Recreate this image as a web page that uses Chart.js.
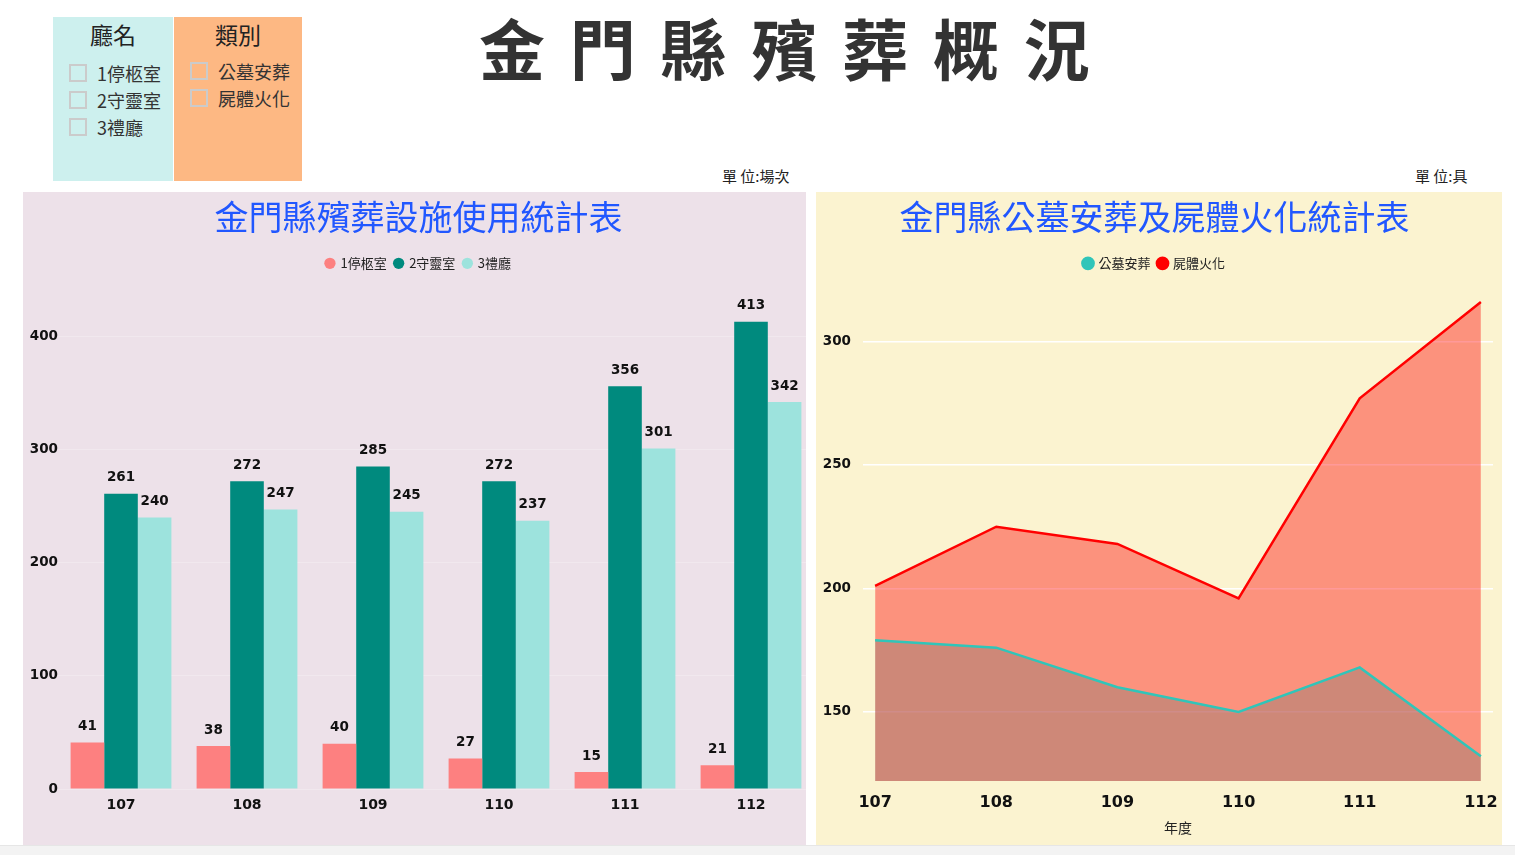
<!DOCTYPE html>
<html>
<head>
<meta charset="utf-8">
<script src="https://cdn.jsdelivr.net/npm/chart.js@4.4.1/dist/chart.umd.min.js"></script>
<style>
  body { margin: 0; width: 1515px; height: 855px; background: #fff; position: relative; overflow: hidden;
         font-family: "Noto Sans CJK TC", "Noto Sans", sans-serif; }
  .box { position: absolute; }
  .slicer { top: 17px; height: 164px; }
  .slicer h3 { margin: 0; font-weight: normal; font-size: 23px; text-align: center; line-height: 34px; color: #222; }
  .item { position: absolute; font-size: 18px; color: #333; line-height: 22px; }
  .item span.cb { position: absolute; left: 0; top: 2px; width: 14px; height: 14px; border: 2px solid #cbcbcb; }
  .item span.t { position: absolute; white-space: nowrap; }
  .unit { position: absolute; font-size: 15px; color: #222; white-space: nowrap; }
  #bottomBar { position: absolute; left: 0; top: 845px; width: 1515px; height: 10px; background: #f3f3f3; border-top: 1px solid #e6e6e6; }
</style>
</head>
<body>

<div class="box slicer" style="left:53px; width:120px; background:#cdf0ee;">
  <h3>廳名</h3>
</div>
<div class="box slicer" style="left:174px; width:128px; background:#fdb883;">
  <h3>類別</h3>
</div>
<div id="slicerItems"></div>

<div class="box" id="mainTitle" style="left:479px; top:8px; font-size:66px; line-height:76px; font-weight:bold; color:#333; letter-spacing:4.9px; white-space:nowrap;">金 門 縣 殯 葬 概 況</div>

<div class="unit" style="left:722px; top:165px;">單 位:場次</div>
<div class="unit" style="left:1415px; top:165px;">單 位:具</div>

<div class="box" style="left:23px; top:192px; width:783px; height:653px; background:#ede1e9;"></div>
<div class="box" style="left:816px; top:192px; width:686px; height:653px; background:#fbf3d0;"></div>

<canvas id="barChart" width="791" height="653" style="position:absolute; left:23px; top:192px;"></canvas>
<canvas id="areaChart" width="686" height="653" style="position:absolute; left:816px; top:192px;"></canvas>

<div id="bottomBar"></div>

<script>
// slicer entries
const hallNames = ['1停柩室', '2守靈室', '3禮廳'];
const typeNames = ['公墓安葬', '屍體火化'];

// bar chart data
const years = ['107', '108', '109', '110', '111', '112'];
const coffinRoom = [41, 38, 40, 27, 15, 21];
const wakeRoom = [261, 272, 285, 272, 356, 413];
const ceremonyHall = [240, 247, 245, 237, 301, 342];

// area chart data
const yearNums = [107, 108, 109, 110, 111, 112];
const burials = [179, 176, 160, 150, 168, 132];
const cremations = [201, 225, 218, 196, 277, 316];

function addItems(names, left, top) {
  const holder = document.getElementById('slicerItems');
  names.forEach(function (n, i) {
    const d = document.createElement('div');
    d.className = 'item';
    d.style.left = left + 'px';
    d.style.top = (top + i * 27) + 'px';
    d.innerHTML = '<span class="cb"></span><span class="t" style="left:28px">' + n + '</span>';
    holder.appendChild(d);
  });
}
addItems(hallNames, 69, 62);
addItems(typeNames, 190, 60);

const numFont = '"DejaVu Sans", "Liberation Sans", sans-serif';
const cjkFont = '"Noto Sans CJK TC", "Noto Sans", sans-serif';

const barLabels = {
  id: 'barLabels',
  afterDatasetsDraw(chart) {
    const ctx = chart.ctx;
    ctx.save();
    ctx.font = 'bold 13.5px ' + numFont;
    ctx.fillStyle = '#111';
    ctx.textAlign = 'center';
    ctx.textBaseline = 'middle';
    chart.data.datasets.forEach(function (ds, i) {
      chart.getDatasetMeta(i).data.forEach(function (bar, j) {
        ctx.fillText(ds.data[j], bar.x, bar.y - 16);
      });
    });
    ctx.restore();
  }
};

const titleOpts = function (text) {
  return {
    display: true,
    text: text,
    color: '#2157ff',
    font: { family: cjkFont, size: 34, weight: 'normal' },
    padding: { top: 5, bottom: 11 }
  };
};
const legendOpts = {
  display: true,
  labels: {
    usePointStyle: true,
    pointStyle: 'circle',
    boxWidth: 8,
    boxHeight: 8,
    padding: 8,
    color: '#222',
    font: { family: cjkFont, size: 13 }
  }
};

new Chart(document.getElementById('barChart'), {
  type: 'bar',
  data: {
    labels: years,
    datasets: [
      { label: hallNames[0], data: coffinRoom, backgroundColor: '#fd8080' },
      { label: hallNames[1], data: wakeRoom, backgroundColor: '#008a7e' },
      { label: hallNames[2], data: ceremonyHall, backgroundColor: '#9de3dd' }
    ]
  },
  options: {
    responsive: false,
    animation: false,
    datasets: { bar: { categoryPercentage: 0.8, barPercentage: 1.0 } },
    plugins: {
      title: titleOpts('金門縣殯葬設施使用統計表'),
      legend: legendOpts,
      tooltip: { enabled: false }
    },
    scales: {
      x: {
        grid: { display: false, drawTicks: false },
        border: { display: false },
        ticks: { color: '#111', font: { family: numFont, size: 14, weight: 'bold' }, padding: 8 },
        afterFit(s) { s.height = 56; }
      },
      y: {
        min: 0,
        max: 450,
        grid: { color: 'rgba(255,255,255,0.25)', drawTicks: false },
        border: { display: false },
        ticks: { color: '#111', font: { family: numFont, size: 13.5, weight: 'bold' }, padding: 0 },
        afterBuildTicks(s) { s.ticks = [0, 100, 200, 300, 400].map(v => ({ value: v })); },
        afterFit(s) { s.width = 35; }
      }
    }
  },
  plugins: [barLabels]
});

new Chart(document.getElementById('areaChart'), {
  type: 'line',
  data: {
    datasets: [
      {
        label: typeNames[1],
        data: yearNums.map((y, i) => ({ x: y, y: cremations[i] })),
        borderColor: '#ff0000',
        backgroundColor: 'rgba(255,0,0,0.4)',
        borderWidth: 2.5,
        pointRadius: 0,
        fill: 'origin'
      },
      {
        label: typeNames[0],
        data: yearNums.map((y, i) => ({ x: y, y: burials[i] })),
        borderColor: '#30c5b9',
        backgroundColor: 'rgba(48,197,185,0.38)',
        borderWidth: 2.5,
        pointRadius: 0,
        fill: 'origin'
      }
    ]
  },
  options: {
    responsive: false,
    animation: false,
    layout: { padding: { right: 9 } },
    plugins: {
      title: titleOpts('金門縣公墓安葬及屍體火化統計表'),
      legend: Object.assign({}, legendOpts, {
        reverse: true,
        labels: Object.assign({}, legendOpts.labels, {
          generateLabels(chart) {
            const items = Chart.defaults.plugins.legend.labels.generateLabels(chart);
            items.forEach(it => { it.fillStyle = chart.data.datasets[it.datasetIndex].borderColor; });
            return items;
          }
        })
      }),
      filler: { drawTime: 'beforeDatasetsDraw' },
      tooltip: { enabled: false }
    },
    scales: {
      x: {
        type: 'linear',
        min: 106.9,
        max: 112.1,
        grid: { display: false, drawTicks: false },
        border: { display: false },
        ticks: { color: '#111', font: { family: numFont, size: 16, weight: 'bold' }, padding: 12 },
        afterBuildTicks(s) { s.ticks = yearNums.map(v => ({ value: v })); },
        title: { display: true, text: '年度', color: '#222', font: { family: cjkFont, size: 14 }, padding: { top: 4, bottom: 9 } },
        afterFit(s) { s.height = 64; s.paddingLeft = 0; s.paddingRight = 0; }
      },
      y: {
        min: 122,
        max: 325,
        grid: { color: '#ffffff', lineWidth: 1.5, drawTicks: false },
        border: { display: false },
        ticks: { color: '#111', font: { family: numFont, size: 13.5, weight: 'bold' }, padding: 12 },
        afterBuildTicks(s) { s.ticks = [150, 200, 250, 300].map(v => ({ value: v })); },
        afterFit(s) { s.width = 47; }
      }
    }
  }
});
</script>
</body>
</html>
